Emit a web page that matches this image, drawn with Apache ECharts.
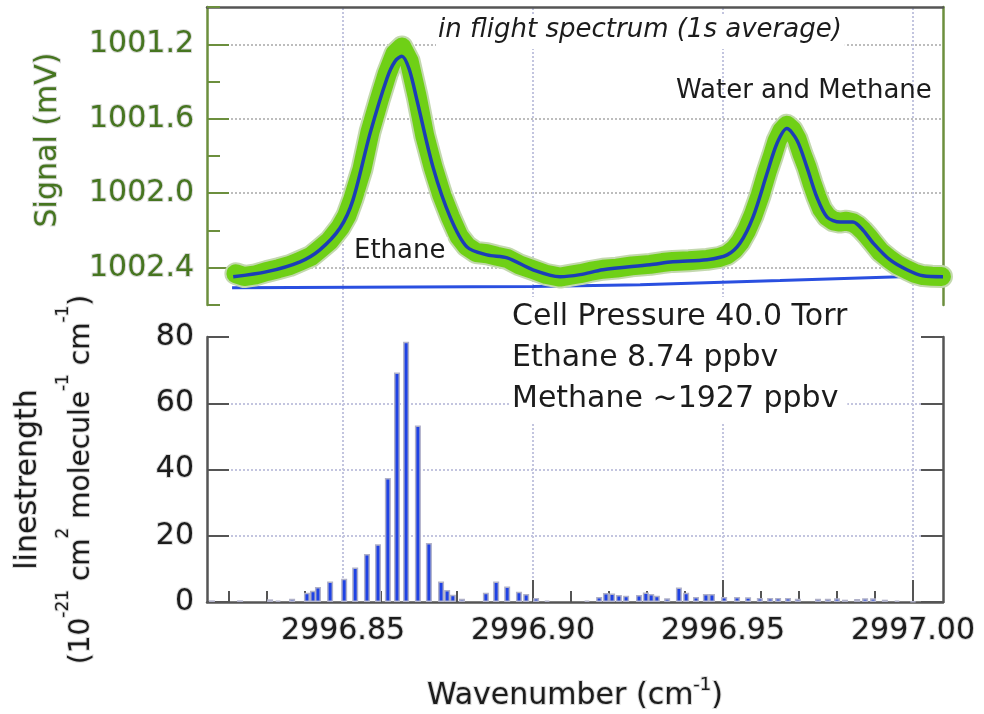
<!DOCTYPE html>
<html>
<head>
<meta charset="utf-8">
<script src="https://cdn.jsdelivr.net/npm/echarts@6/dist/echarts.min.js"></script>
<style>
  html, body { margin: 0; padding: 0; background: #ffffff; }
  #chart { width: 984px; height: 714px; }
</style>
</head>
<body>
<div id="chart"></div>
<script>
// ── Spectrum + linestrength chart ────────────────────────────────────────────
var FONT = "'DejaVu Sans', sans-serif";
var C = {
  green:     '#6fd016',
  greenEdge: '#c3d8ae',
  fit:       '#1b3db8',
  base:      '#2a4fe0',
  bar:       '#1f42e4',
  barEdge:   '#b0b1c8',
  axisGreen: '#6c8f3e',
  lblGreen:  '#467520',
  dark:      '#555555',
  text:      '#1c1c1c',
  gridV:     '#c3c5df',
  gridH:     '#bdbdbd',
};

// ── Axis ranges / ticks ──────────────────────────────────────────────────────
var X_MIN = 2996.8142, X_MAX = 2997.0079;
var wnMajor = [2996.85, 2996.90, 2996.95, 2997.00];
var wnMinor = [2996.82, 2996.83, 2996.84, 2996.86, 2996.87, 2996.88, 2996.89,
               2996.91, 2996.92, 2996.93, 2996.94, 2996.96, 2996.97, 2996.98, 2996.99];
var sigMajor = [1001.2, 1001.6, 1002.0, 1002.4];
var sigMinor = [1001.0, 1001.4, 1001.8, 1002.2, 1002.6];

// ── Measured spectrum (green) ────────────────────────────────────────────────
var measWn = [2996.8218, 2996.8240, 2996.8270, 2996.8300, 2996.8330, 2996.8360, 2996.8387,
  2996.8415, 2996.8439, 2996.8465, 2996.8492, 2996.8510, 2996.8526, 2996.8550, 2996.8571, 2996.8595,
  2996.8616, 2996.8637, 2996.8655, 2996.8674, 2996.8695, 2996.8715, 2996.8737, 2996.8760, 2996.8782,
  2996.8805, 2996.8826, 2996.8850, 2996.8879, 2996.8905, 2996.8932, 2996.8965, 2996.9000, 2996.9035,
  2996.9071, 2996.9100, 2996.9124, 2996.9150, 2996.9184, 2996.9220, 2996.9260, 2996.9308, 2996.9340,
  2996.9368, 2996.9410, 2996.9458, 2996.9490, 2996.9511, 2996.9530, 2996.9545, 2996.9562, 2996.9579,
  2996.9598, 2996.9616, 2996.9630, 2996.9642, 2996.9655, 2996.9668, 2996.9682, 2996.9695, 2996.9708,
  2996.9721, 2996.9734, 2996.9747, 2996.9760, 2996.9774, 2996.9790, 2996.9808, 2996.9825, 2996.9842,
  2996.9855, 2996.9868, 2996.9882, 2996.9895, 2996.9915, 2996.9939, 2996.9960, 2996.9984, 2997.0005,
  2997.0026, 2997.0050, 2997.0075];
var measSignal = [1002.432, 1002.447, 1002.438, 1002.420, 1002.405, 1002.388, 1002.365,
  1002.340, 1002.300, 1002.255, 1002.185, 1002.120, 1002.030, 1001.870, 1001.670, 1001.500,
  1001.360, 1001.250, 1001.215, 1001.290, 1001.480, 1001.690, 1001.860, 1002.010, 1002.125,
  1002.230, 1002.285, 1002.318, 1002.325, 1002.338, 1002.350, 1002.385, 1002.410, 1002.436,
  1002.450, 1002.440, 1002.432, 1002.420, 1002.408, 1002.402, 1002.390, 1002.382, 1002.372,
  1002.366, 1002.362, 1002.355, 1002.345, 1002.330, 1002.300, 1002.262, 1002.200, 1002.120,
  1002.010, 1001.885, 1001.800, 1001.720, 1001.665, 1001.635, 1001.660, 1001.710, 1001.790,
  1001.860, 1001.945, 1002.020, 1002.085, 1002.125, 1002.148, 1002.155, 1002.150, 1002.158,
  1002.175, 1002.200, 1002.232, 1002.265, 1002.315, 1002.355, 1002.385, 1002.410, 1002.430,
  1002.442, 1002.446, 1002.447];

// ── Fit (blue) ───────────────────────────────────────────────────────────────
var fitWn = [2996.8211, 2996.8300, 2996.8387, 2996.8439, 2996.8492, 2996.8526, 2996.8571, 2996.8616,
  2996.8637, 2996.8655, 2996.8674, 2996.8695, 2996.8737, 2996.8782, 2996.8826, 2996.8879, 2996.8932,
  2996.9000, 2996.9071, 2996.9124, 2996.9184, 2996.9308, 2996.9368, 2996.9458, 2996.9511, 2996.9545,
  2996.9579, 2996.9616, 2996.9642, 2996.9668, 2996.9695, 2996.9721, 2996.9747, 2996.9774, 2996.9808,
  2996.9842, 2996.9868, 2996.9895, 2996.9939, 2996.9984, 2997.0026, 2997.0079];
var fitSignal = [1002.448, 1002.421, 1002.368, 1002.304, 1002.187, 1002.037, 1001.680, 1001.381,
  1001.291, 1001.264, 1001.333, 1001.504, 1001.861, 1002.128, 1002.288, 1002.331, 1002.347,
  1002.411, 1002.448, 1002.437, 1002.411, 1002.384, 1002.368, 1002.357, 1002.331, 1002.267,
  1002.128, 1001.893, 1001.733, 1001.653, 1001.717, 1001.861, 1002.021, 1002.128, 1002.155,
  1002.155, 1002.197, 1002.267, 1002.357, 1002.411, 1002.443, 1002.448];

// ── Baseline (blue) ──────────────────────────────────────────────────────────
var baseWn = [2996.8208, 2996.9000, 2996.9282, 2996.9650, 2996.9966, 2997.0071];
var baseSignal = [1002.507, 1002.501, 1002.491, 1002.469, 1002.448, 1002.443];

// ── Linestrengths (bars) ─────────────────────────────────────────────────────
var lineWn = [2996.8155, 2996.8229, 2996.8308, 2996.8329, 2996.8366, 2996.8405, 2996.8421, 2996.8434,
  2996.8466, 2996.8503, 2996.8532, 2996.8563, 2996.8592, 2996.8618, 2996.8642, 2996.8666, 2996.8697,
  2996.8726, 2996.8758, 2996.8774, 2996.8789, 2996.8813, 2996.8876, 2996.8903, 2996.8932, 2996.8963,
  2996.8982, 2996.9008, 2996.9037, 2996.9142, 2996.9174, 2996.9192, 2996.9208, 2996.9226, 2996.9245,
  2996.9279, 2996.9297, 2996.9311, 2996.9326, 2996.9353, 2996.9384, 2996.9403, 2996.9429, 2996.9455,
  2996.9471, 2996.9503, 2996.9537, 2996.9566, 2996.9597, 2996.9624, 2996.9645, 2996.9671, 2996.9697,
  2996.9750, 2996.9776, 2996.9800, 2996.9821, 2996.9853, 2996.9874, 2996.9895, 2996.9926, 2996.9958,
  2997.0000];
var lineStrength = [0.5, 0.5, 0.8, 0.4, 1.0, 2.8, 3.4, 4.5,
  6.2, 7.0, 10.4, 14.5, 17.4, 37.4, 69.3, 78.6, 53.3,
  17.8, 6.2, 3.6, 2.2, 1.0, 2.8, 6.2, 4.7, 3.1,
  2.4, 1.2, 0.4, 0.4, 1.5, 2.7, 2.6, 2.1, 1.9,
  2.1, 2.9, 2.4, 1.9, 1.1, 4.4, 2.8, 1.5, 2.4,
  2.4, 1.5, 1.5, 1.4, 1.2, 1.2, 1.2, 1.2, 1.0,
  1.0, 1.0, 1.1, 0.7, 0.9, 1.1, 1.1, 0.7, 0.4,
  0.2];

// ── Annotation texts ─────────────────────────────────────────────────────────
var titleText = 'in flight spectrum (1s average)';
var peakLabels = ['Water and Methane', 'Ethane'];
var infoLines = ['Cell Pressure 40.0 Torr', 'Ethane 8.74 ppbv', 'Methane ~1927 ppbv'];

function pairs(xs, ys) {
  return xs.map(function (x, i) { return [x, ys[i]]; });
}

var halo = { textBorderColor: 'rgba(150,150,150,0.35)', textBorderWidth: 2 };
function gridLine(color) {
  return { show: true, lineStyle: { color: color, width: 2, type: [2, 2] } };
}
function hiddenAxis(grid) {
  return { gridIndex: grid, type: 'value', min: X_MIN, max: X_MAX, show: false };
}

var option = {
  animation: false,
  backgroundColor: '#ffffff',
  textStyle: { fontFamily: FONT },
  grid: [
    { left: 207, right: 41, top: 7, height: 298 },   // 0 top panel
    { left: 207, right: 41, top: 337, height: 265 }, // 1 bottom panel
    { left: 207, right: 41, top: 8, height: 594 },   // 2 vertical grid lines
    { left: 207, right: 41, top: 7, height: 298 },   // 3 top horizontal grid lines
    { left: 207, right: 41, top: 337, height: 265 }  // 4 bottom horizontal grid lines
  ],
  xAxis: [
    { // top panel (top border)
      gridIndex: 0, type: 'value', position: 'top', min: X_MIN, max: X_MAX,
      axisLine: { show: true, onZero: false, lineStyle: { color: C.dark, width: 2.5 } },
      axisTick: { show: false }, axisLabel: { show: false }, splitLine: { show: false }
    },
    { // bottom panel major
      gridIndex: 1, type: 'value', position: 'bottom', min: X_MIN, max: X_MAX,
      axisLine: { show: true, onZero: false, lineStyle: { color: C.dark, width: 2.5 } },
      axisTick: { show: true, inside: true, length: 22, customValues: wnMajor,
                  lineStyle: { color: C.dark, width: 2 } },
      axisLabel: Object.assign({ customValues: wnMajor, fontSize: 30, color: C.text, margin: 14,
                  fontFamily: FONT, formatter: function (v) { return v.toFixed(2); } }, halo),
      splitLine: { show: false },
      name: '{n|Wavenumber (cm}{s|-1}{n|)}',
      nameLocation: 'middle', nameGap: 74,
      nameTextStyle: {
        rich: {
          n: Object.assign({ fontSize: 30, fontFamily: FONT, color: C.text, lineHeight: 40 }, halo),
          s: Object.assign({ fontSize: 18, fontFamily: FONT, color: C.text, verticalAlign: 'top' }, halo)
        }
      }
    },
    { // bottom panel minor ticks
      gridIndex: 1, type: 'value', position: 'bottom', min: X_MIN, max: X_MAX,
      axisLine: { show: false },
      axisTick: { show: true, inside: true, length: 11, customValues: wnMinor,
                  lineStyle: { color: C.dark, width: 2 } },
      axisLabel: { show: false }, splitLine: { show: false }
    },
    { // full-height vertical grid lines
      gridIndex: 2, type: 'value', min: X_MIN, max: X_MAX,
      axisLine: { show: false },
      axisTick: { show: false, customValues: wnMajor },
      axisLabel: { show: false },
      splitLine: gridLine(C.gridV)
    },
    hiddenAxis(3),
    hiddenAxis(4)
  ],
  yAxis: [
    { // 0 top panel left: line + minor ticks
      gridIndex: 0, type: 'value', inverse: true, min: 1001.0, max: 1002.6, position: 'left',
      axisLine: { show: true, onZero: false, lineStyle: { color: C.axisGreen, width: 2.5 } },
      axisTick: { show: true, inside: true, length: 13, customValues: sigMinor,
                  lineStyle: { color: C.axisGreen, width: 2 } },
      axisLabel: { show: false }, splitLine: { show: false }
    },
    { // 1 top panel left: major ticks, labels
      gridIndex: 0, type: 'value', inverse: true, min: 1001.0, max: 1002.6, position: 'left',
      axisLine: { show: false },
      axisTick: { show: true, inside: true, length: 22, customValues: sigMajor,
                  lineStyle: { color: C.axisGreen, width: 2 } },
      axisLabel: Object.assign({ customValues: sigMajor, fontSize: 30, color: C.lblGreen, margin: 13,
                  fontFamily: FONT, formatter: function (v) { return v.toFixed(1); } }, halo),
      splitLine: { show: false },
      name: 'Signal (mV)', nameLocation: 'middle', nameGap: 144, nameRotate: 90,
      nameTextStyle: Object.assign({ fontSize: 30, fontFamily: FONT, color: C.lblGreen,
                      padding: [0, 0, 0, 32] }, halo)
    },
    { // 2 top panel right border
      gridIndex: 0, type: 'value', inverse: true, min: 1001.0, max: 1002.6, position: 'right',
      axisLine: { show: true, onZero: false, lineStyle: { color: C.axisGreen, width: 2.5 } },
      axisTick: { show: false }, axisLabel: { show: false }, splitLine: { show: false }
    },
    { // 3 bottom panel left
      gridIndex: 1, type: 'value', min: 0, max: 80, interval: 20, position: 'left',
      axisLine: { show: true, onZero: false, lineStyle: { color: C.dark, width: 2.5 } },
      axisTick: { show: true, inside: true, length: 22, lineStyle: { color: C.dark, width: 2 } },
      axisLabel: Object.assign({ fontSize: 30, color: C.text, margin: 13, fontFamily: FONT }, halo),
      splitLine: { show: false },
      name: '{a|linestrength}\n{b|(10}{s|-21}{b| cm}{s|2}{b| molecule}{s|-1}{b| cm}{s|-1}{b|)}',
      nameLocation: 'middle', nameGap: 98, nameRotate: 90,
      nameTextStyle: {
        padding: [0, 20, 0, 0],
        rich: {
          a: Object.assign({ fontSize: 30, fontFamily: FONT, color: C.text, lineHeight: 54 }, halo),
          b: Object.assign({ fontSize: 28, fontFamily: FONT, color: C.text, lineHeight: 54 }, halo),
          s: Object.assign({ fontSize: 17, fontFamily: FONT, color: C.text, verticalAlign: 'top' }, halo)
        }
      }
    },
    { // 4 bottom panel right
      gridIndex: 1, type: 'value', min: 0, max: 80, interval: 20, position: 'right',
      axisLine: { show: true, onZero: false, lineStyle: { color: C.dark, width: 2.5 } },
      axisTick: { show: true, inside: true, length: 22, lineStyle: { color: C.dark, width: 2 } },
      axisLabel: { show: false }, splitLine: { show: false }
    },
    { gridIndex: 2, type: 'value', show: false },
    { // 6 top horizontal grid lines
      gridIndex: 3, type: 'value', inverse: true, min: 1001.0, max: 1002.6,
      axisLine: { show: false },
      axisTick: { show: false, customValues: sigMajor },
      axisLabel: { show: false },
      splitLine: gridLine(C.gridH)
    },
    { // 7 bottom horizontal grid lines
      gridIndex: 4, type: 'value', min: 0, max: 80,
      axisLine: { show: false },
      axisTick: { show: false, customValues: [20, 40, 60] },
      axisLabel: { show: false },
      splitLine: gridLine(C.gridV)
    }
  ],
  graphic: [
    { type: 'text', left: 436, top: 15, z: 50,
      style: { text: titleText, font: 'italic 26px ' + FONT, fill: C.text,
               backgroundColor: '#ffffff', padding: [2, 3, 6, 2] } },
    { type: 'text', left: 676, top: 78, z: 50,
      style: { text: peakLabels[0], font: '26px ' + FONT, fill: C.text } },
    { type: 'text', left: 352, top: 237, z: 50,
      style: { text: peakLabels[1], font: '26px ' + FONT, fill: C.text,
               backgroundColor: '#ffffff', padding: [1, 2, 3, 2] } },
    { type: 'text', left: 511, top: 297, z: 50,
      style: { text: infoLines.join('\n'), font: '30px ' + FONT, lineHeight: 41, fill: C.text,
               backgroundColor: '#ffffff', padding: [0, 0, 2, 1] } }
  ],
  series: [
    { name: 'baseline', type: 'line', xAxisIndex: 0, yAxisIndex: 0, z: 3,
      data: pairs(baseWn, baseSignal), symbol: 'none',
      lineStyle: { color: C.base, width: 3 } },
    { name: 'measured edge', type: 'line', xAxisIndex: 0, yAxisIndex: 0, z: 4, clip: false,
      data: pairs(measWn, measSignal), symbol: 'none',
      lineStyle: { color: C.greenEdge, width: 23, join: 'round', cap: 'round' } },
    { name: 'measured', type: 'line', xAxisIndex: 0, yAxisIndex: 0, z: 5, clip: false,
      data: pairs(measWn, measSignal), symbol: 'none',
      lineStyle: { color: C.green, width: 19, join: 'round', cap: 'round' } },
    { name: 'fit', type: 'line', xAxisIndex: 0, yAxisIndex: 0, z: 6,
      data: pairs(fitWn, fitSignal), symbol: 'none', smooth: 0.3,
      lineStyle: { color: C.fit, width: 3.5 } },
    { name: 'linestrength', type: 'bar', xAxisIndex: 1, yAxisIndex: 3, z: 3,
      data: pairs(lineWn, lineStrength), barWidth: 6,
      itemStyle: { color: C.bar, borderColor: C.barEdge, borderWidth: 1.5 } }
  ]
};

var chart = echarts.init(document.getElementById('chart'), null, { renderer: 'canvas' });
chart.setOption(option);
</script>
</body>
</html>
